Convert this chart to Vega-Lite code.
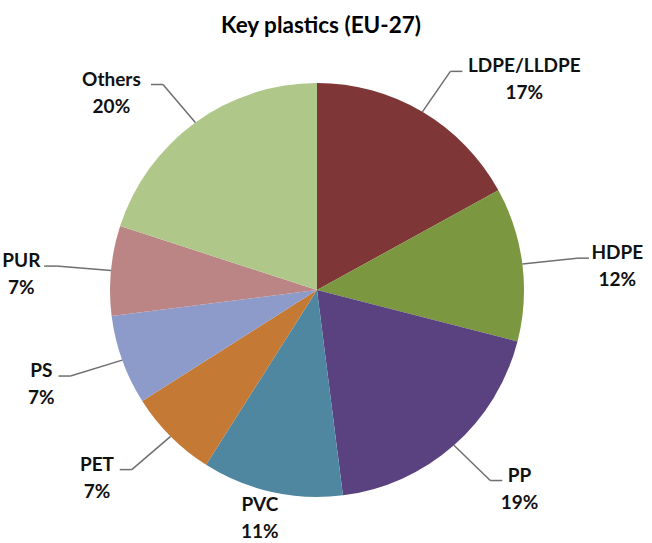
{
  "$schema": "https://vega.github.io/schema/vega-lite/v6.json",
  "width": 634,
  "height": 500,
  "autosize": "none",
  "padding": {"left": 0, "top": 40, "right": 18, "bottom": 3},
  "background": "white",
  "title": {"text": "Key plastics (EU-27)", "font": "Lato", "fontSize": 22.5, "fontWeight": "bold", "color": "#000000", "offset": 3, "anchor": "middle", "dx": 4},
  "config": {"view": {"stroke": null}},
  "data": {"values": [
    {"name": "LDPE/LLDPE", "share": 17},
    {"name": "HDPE", "share": 12},
    {"name": "PP", "share": 19},
    {"name": "PVC", "share": 11},
    {"name": "PET", "share": 7},
    {"name": "PS", "share": 7},
    {"name": "PUR", "share": 7},
    {"name": "Others", "share": 20}
  ]},
  "transform": [
    {"window": [{"op": "row_number", "as": "idx"}, {"op": "sum", "field": "share", "as": "cum"}], "frame": [null, 0]},
    {"joinaggregate": [{"op": "sum", "field": "share", "as": "total"}]},
    {"calculate": "(datum.cum - datum.share/2)/datum.total*2*PI", "as": "a"},
    {"calculate": "sin(datum.a)", "as": "s"},
    {"calculate": "cos(datum.a)", "as": "c"},
    {"calculate": "datum.c < -0.95", "as": "bottom"},
    {"calculate": "datum.s >= 0 ? 1 : -1", "as": "dir"},
    {"calculate": "207*datum.s", "as": "x0"},
    {"calculate": "-207*datum.c", "as": "y0"},
    {"calculate": "datum.bottom ? datum.x0 : datum.x0 + 55*datum.s", "as": "x1"},
    {"calculate": "datum.bottom ? datum.y0 : datum.y0 - 47*datum.c", "as": "y1"},
    {"calculate": "datum.bottom ? datum.x1 : datum.x1 + 12*datum.dir", "as": "x2"},
    {"calculate": "datum.y1", "as": "y2"},
    {"calculate": "datum.bottom ? datum.x0 - 12 : datum.x2 + datum.dir*(6 + length(datum.name)*5.6)", "as": "tx"},
    {"calculate": "datum.bottom ? datum.y0 + 19 : datum.y2 + 1", "as": "ty"},
    {"calculate": "[datum.name, datum.share + '%']", "as": "label"}
  ],
  "layer": [
    {
      "mark": {"type": "arc", "outerRadius": 207, "stroke": null},
      "encoding": {
        "theta": {"field": "share", "type": "quantitative", "stack": true},
        "order": {"field": "idx", "type": "quantitative", "sort": "ascending"},
        "color": {"field": "name", "type": "nominal", "legend": null,
          "scale": {"domain": ["LDPE/LLDPE", "HDPE", "PP", "PVC", "PET", "PS", "PUR", "Others"],
                    "range": ["#7e3636", "#7b973f", "#5a4280", "#4f86a0", "#c47a35", "#8d9bcb", "#bc8585", "#b0c78a"]}}
      }
    },
    {
      "transform": [{"filter": "!datum.bottom"}],
      "mark": {"type": "rule", "color": "#6f6f6f", "strokeWidth": 1.5},
      "encoding": {
        "x": {"field": "x0", "type": "quantitative", "scale": {"domain": [-317, 317], "nice": false, "zero": false}, "axis": null},
        "y": {"field": "y0", "type": "quantitative", "scale": {"domain": [-250, 250], "nice": false, "zero": false, "reverse": true}, "axis": null},
        "x2": {"field": "x1"},
        "y2": {"field": "y1"}
      }
    },
    {
      "transform": [{"filter": "!datum.bottom"}],
      "mark": {"type": "rule", "color": "#6f6f6f", "strokeWidth": 1.5},
      "encoding": {
        "x": {"field": "x1", "type": "quantitative"},
        "y": {"field": "y1", "type": "quantitative"},
        "x2": {"field": "x2"},
        "y2": {"field": "y2"}
      }
    },
    {
      "mark": {"type": "text", "font": "Lato", "fontSize": 19, "fontWeight": "bold", "color": "#111111", "align": "center", "baseline": "alphabetic", "lineHeight": 27},
      "encoding": {
        "x": {"field": "tx", "type": "quantitative"},
        "y": {"field": "ty", "type": "quantitative"},
        "text": {"field": "label", "type": "nominal"}
      }
    }
  ]
}
